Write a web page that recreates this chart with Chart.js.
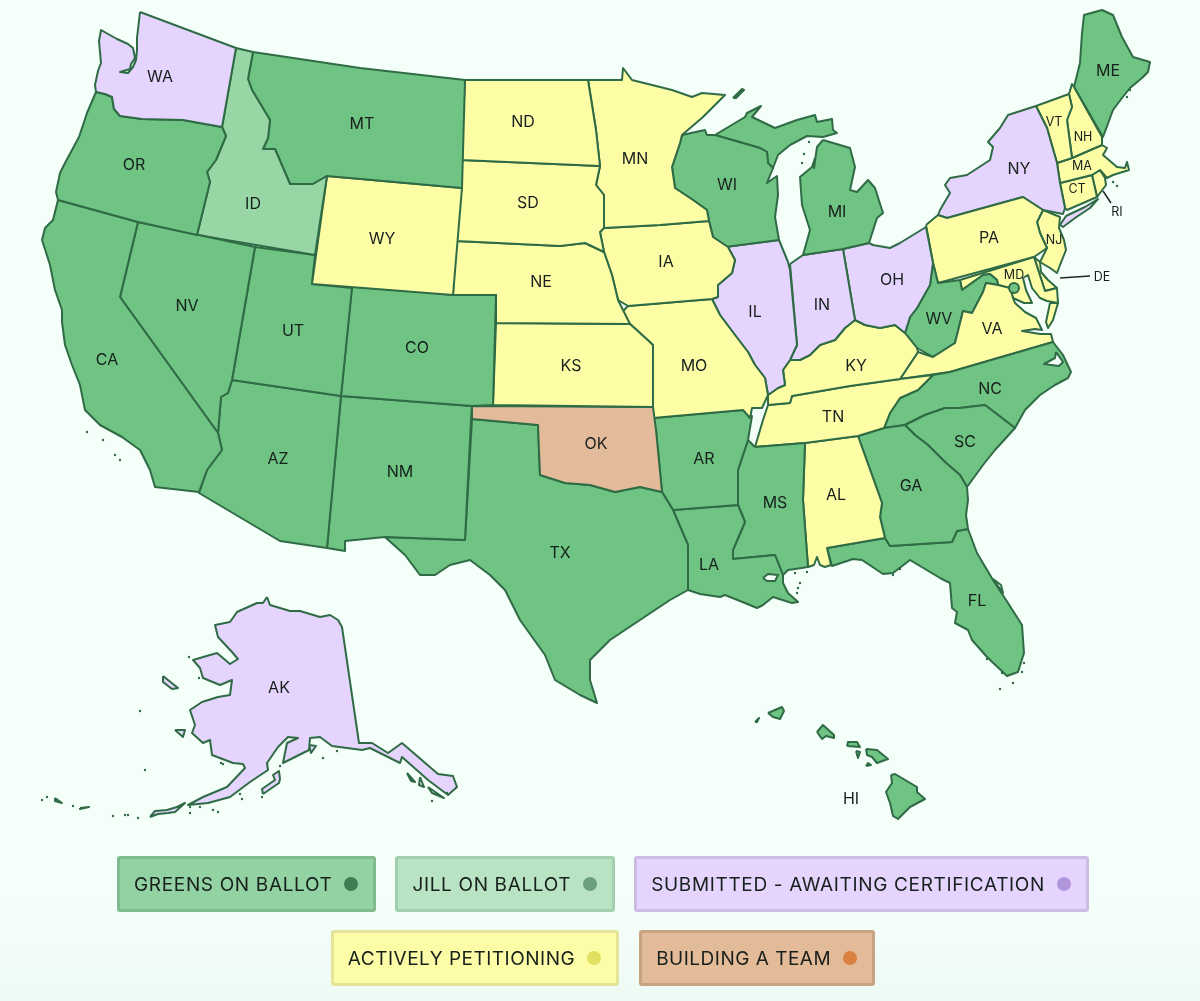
<!DOCTYPE html>
<html>
<head>
<meta charset="utf-8">
<title>Green Party ballot access</title>
<script src="https://cdn.jsdelivr.net/npm/chart.js@4/dist/chart.umd.min.js"></script>
<style>
    html, body { margin: 0; padding: 0; width: 1200px; height: 1001px; overflow: hidden; }
    body { background: linear-gradient(to bottom, #f5fffa 0, #f5fffa 900px, #eefaf4 1001px); position: relative; font-family: Inter, "Open Sans", sans-serif; }
    #map { position: absolute; left: 0; top: 0; }
    .legend-row { position: absolute; left: 3px; width: 1200px; display: flex; justify-content: center; gap: 19px; letter-spacing: 0.65px; }
    #legend-2 { gap: 20px; letter-spacing: 0.5px; }
    .legend-item { box-sizing: border-box; height: 56px; display: flex; align-items: center; border-radius: 3px; border: 3px solid; padding: 0 15px 0 14px; font-size: 19px; color: #17201c; white-space: nowrap; }
    .legend-item i { width: 14px; height: 14px; border-radius: 50%; margin-left: 12px; display: block; }
</style>
</head>
<body>
<canvas id="map" width="1200" height="1001"></canvas>
<div class="legend-row" id="legend-1" style="top:856px"></div>
<div class="legend-row" id="legend-2" style="top:930px"></div>
<script>
// categories
const legendLabels = ['GREENS ON BALLOT', 'JILL ON BALLOT', 'SUBMITTED - AWAITING CERTIFICATION', 'ACTIVELY PETITIONING', 'BUILDING A TEAM'];
const legendFill = ['#93d3a3', '#b9e4c3', '#e5d4fd', '#fcfda6', '#e4bb98'];
const legendEdge = ['#7fbb8f', '#a2cfae', '#cdbde6', '#e4e49a', '#c5a383'];
const legendDot = ['#3f7d55', '#6c9f7c', '#b095dd', '#e0e060', '#d98240'];
const stateFill = ['#6fc383', '#98d6a6', '#e5d4fe', '#fdfda6', '#e3bb9a'];

// states by category
const greens = ['OR','CA','NV','MT','UT','CO','AZ','NM','TX','AR','LA','MS','WI','MI','MI2','MI3','WV','NC','SC','GA','FL','ME','HI1','HI2','HI3','HI4','HI5','HI6','HI7','HI8'];
const jill = ['ID'];
const submitted = ['WA','NY','NY2','IL','IN','OH','AK','AK2','AK3','AK4','AK5','AK6','AK7','AK8','AK9','AK10','AK11'];
const petitioning = ['WY','ND','SD','NE','KS','MN','IA','MO','KY','TN','AL','VA','VA2','PA','NJ','DE','MD','VT','NH','MA','CT','RI'];
const team = ['OK'];

// outlines
const WA = [[140,12],[236,48],[222,127],[183,120],[142,119],[120,116],[114,109],[112,97],[105,94],[96,92],[95,85],[98,71],[101,63],[99,41],[101,30],[117,39],[128,44],[133,48],[135,58],[131,64],[130,69],[120,72],[128,73],[133,67],[136,60],[137,50],[137,38]];
const OR = [[96,92],[105,94],[112,97],[114,109],[120,116],[142,119],[183,120],[222,127],[226,136],[216,160],[207,172],[210,182],[197,235],[138,222],[58,200],[56,192],[60,173],[65,163],[79,137],[87,113]];
const CA = [[58,200],[138,222],[120,297],[218,433],[222,450],[207,470],[199,492],[155,487],[150,470],[140,450],[122,437],[100,425],[85,410],[80,385],[72,365],[65,345],[62,322],[62,310],[55,290],[50,265],[42,240],[45,228],[53,220]];
const NV = [[138,222],[255,247],[232,380],[228,393],[221,397],[218,433],[120,297]];
const ID = [[236,48],[253,52],[248,79],[252,90],[270,120],[268,138],[263,149],[275,149],[290,184],[313,184],[320,180],[327,176],[315,255],[197,235],[210,182],[207,172],[216,160],[226,136],[222,127]];
const MT = [[253,52],[360,68],[465,80],[462,188],[327,176],[320,180],[313,184],[290,184],[275,149],[263,149],[268,138],[270,120],[252,90],[248,79]];
const WY = [[327,176],[462,188],[453,295],[312,284]];
const UT = [[255,247],[315,255],[312,284],[352,288],[341,396],[232,380]];
const CO = [[352,285],[453,295],[496,295],[493,405],[472,406],[341,396]];
const AZ = [[232,380],[341,396],[327,548],[280,541],[199,493],[207,470],[222,450],[218,433],[221,397],[228,393]];
const NM = [[341,396],[472,406],[471,420],[465,540],[385,537],[345,541],[345,551],[327,548]];
const ND = [[465,80],[530,80],[588,80],[592,105],[596,130],[600,166],[461,160]];
const SD = [[461,160],[600,166],[596,185],[604,195],[604,228],[600,232],[604,252],[585,243],[560,246],[456,241]];
const NE = [[456,241],[560,246],[585,243],[604,252],[612,275],[618,300],[630,324],[496,323],[496,295],[453,295]];
const KS = [[496,323],[630,324],[640,333],[653,345],[653,407],[493,405]];
const OK = [[472,406],[653,407],[656,430],[662,492],[640,487],[615,492],[590,485],[565,483],[540,475],[538,425],[472,419]];
const TX = [[472,419],[538,425],[540,475],[565,483],[590,485],[615,492],[640,487],[662,492],[673,510],[688,545],[688,575],[688,590],[670,600],[640,620],[610,640],[590,660],[590,680],[597,703],[580,695],[555,680],[545,655],[520,620],[505,590],[490,575],[470,560],[450,565],[435,575],[420,575],[405,555],[385,537],[465,540]];
const MN = [[588,80],[622,80],[623,68],[632,80],[660,87],[672,90],[692,97],[702,93],[725,95],[703,117],[682,135],[680,143],[672,167],[675,188],[693,200],[707,210],[709,221],[660,225],[604,228],[604,195],[596,185],[600,166],[596,130],[592,105]];
const IA = [[604,228],[660,225],[709,221],[713,237],[728,247],[735,260],[732,273],[718,285],[718,297],[712,299],[628,306],[618,300],[612,275],[604,252],[600,232]];
const MO = [[628,306],[712,299],[720,315],[735,335],[748,352],[755,365],[765,378],[768,395],[762,408],[752,408],[750,418],[743,410],[653,418],[653,345],[640,333],[630,324],[622,312]];
const AR = [[653,418],[743,410],[752,416],[748,440],[738,470],[738,505],[673,510],[662,492],[656,430]];
const LA = [[673,510],[738,505],[745,522],[733,550],[733,559],[775,555],[783,575],[783,583],[788,593],[798,602],[792,603],[773,597],[763,605],[757,608],[745,603],[725,595],[720,597],[700,594],[688,590],[688,575],[688,545]];
const MS = [[755,447],[805,443],[803,500],[808,567],[795,569],[788,570],[783,575],[775,555],[733,559],[733,550],[745,522],[738,505],[738,470],[748,440]];
const WI = [[682,135],[705,130],[707,135],[715,135],[760,148],[767,152],[768,163],[773,168],[767,183],[777,176],[778,195],[775,217],[779,240],[725,247],[713,237],[709,221],[707,210],[693,200],[675,188],[672,167],[680,143]];
const MI = [[715,135],[745,117],[747,113],[761,106],[752,117],[775,128],[797,120],[815,115],[817,122],[832,119],[833,130],[837,133],[823,137],[807,136],[790,145],[778,155],[773,168],[768,163],[767,152],[760,148]];
const MI2 = [[823,140],[850,148],[855,167],[850,190],[857,192],[868,180],[875,188],[883,213],[877,218],[869,243],[843,249],[803,255],[810,230],[802,205],[800,177],[812,167],[815,158],[814,168],[817,147]];
const MI3 = [[733,98],[742,89],[744,90],[736,98]];
const IL = [[725,247],[779,240],[788,262],[790,270],[797,345],[790,360],[783,370],[785,385],[778,388],[768,395],[765,378],[755,365],[748,352],[735,335],[720,315],[712,299],[718,297],[718,285],[732,273],[735,260],[728,247]];
const IN = [[790,264],[803,255],[843,249],[855,320],[845,328],[835,340],[820,345],[810,355],[800,360],[790,360],[797,345]];
const OH = [[843,249],[869,243],[873,245],[890,248],[900,243],[926,227],[933,263],[930,285],[917,308],[910,317],[905,333],[895,325],[880,328],[865,325],[855,320]];
const KY = [[768,405],[768,395],[778,388],[785,385],[783,370],[790,360],[800,360],[810,355],[820,345],[835,340],[845,328],[855,320],[865,325],[880,328],[895,325],[905,333],[917,348],[918,352],[900,379],[850,386],[792,396],[790,403]];
const TN = [[768,405],[790,403],[792,396],[850,386],[900,379],[933,375],[918,390],[900,398],[890,413],[884,428],[858,436],[805,443],[755,447],[763,420]];
const AL = [[805,443],[858,436],[882,503],[880,517],[885,538],[827,548],[831,565],[825,567],[820,565],[817,557],[814,565],[808,567],[803,500]];
const GA = [[858,436],[884,428],[905,425],[915,435],[928,445],[945,462],[960,475],[967,487],[968,500],[966,515],[968,529],[957,531],[952,542],[890,546],[885,538],[880,517],[882,503]];
const FL = [[827,548],[885,538],[890,546],[952,542],[957,531],[968,529],[977,553],[993,580],[1008,603],[1022,625],[1024,653],[1018,672],[1007,676],[987,657],[972,640],[968,630],[955,623],[957,612],[952,608],[950,583],[940,578],[910,560],[893,573],[883,574],[862,560],[853,559],[832,566]];
const SC = [[905,425],[925,415],[945,408],[960,408],[985,405],[1015,428],[995,450],[983,465],[967,487],[960,475],[945,462],[928,445],[915,435]];
const NC = [[933,375],[950,372],[1053,342],[1063,355],[1071,372],[1068,378],[1055,385],[1040,395],[1025,410],[1015,428],[985,405],[960,408],[945,408],[925,415],[905,425],[884,428],[890,413],[900,398],[918,390]];
const VA = [[900,379],[950,372],[1053,342],[1051,334],[1040,334],[1022,331],[1035,329],[1042,330],[1036,318],[1025,312],[1015,303],[1013,298],[1010,288],[998,285],[986,283],[983,292],[972,313],[963,311],[955,343],[933,357],[918,352]];
const VA2 = [[1050,303],[1058,303],[1053,320],[1048,328],[1046,322]];
const WV = [[933,263],[938,283],[960,280],[962,290],[983,275],[990,274],[997,280],[998,285],[986,283],[983,292],[972,313],[963,311],[955,343],[933,357],[917,348],[905,333],[910,317],[917,308],[930,285]];
const MD = [[960,280],[1034,257],[1045,291],[1057,288],[1058,303],[1047,301],[1040,298],[1032,288],[1028,275],[1023,278],[1026,290],[1032,303],[1024,303],[1013,298],[1010,288],[998,285],[997,280],[990,274],[983,275],[962,290]];
const DE = [[1034,257],[1040,262],[1041,272],[1048,280],[1057,288],[1045,291]];
const PA = [[926,225],[938,215],[947,218],[1023,197],[1043,210],[1037,222],[1040,233],[1047,248],[1034,257],[938,283],[933,263]];
const NJ = [[1043,210],[1060,217],[1059,228],[1064,240],[1066,250],[1060,265],[1057,273],[1050,268],[1040,262],[1047,248],[1040,233],[1037,222]];
const NY = [[938,215],[940,210],[950,193],[945,185],[950,178],[967,175],[990,160],[993,147],[988,142],[1000,128],[1008,115],[1036,106],[1047,128],[1057,163],[1060,183],[1065,208],[1063,214],[1043,210],[1023,197],[947,218]];
const NY2 = [[1060,225],[1066,216],[1085,207],[1098,199],[1090,208],[1075,218],[1063,227]];
const VT = [[1036,106],[1069,94],[1072,107],[1067,120],[1072,158],[1057,163],[1047,128]];
const NH = [[1069,94],[1072,84],[1074,87],[1102,137],[1102,145],[1072,158],[1067,120],[1072,107]];
const ME = [[1074,87],[1077,75],[1080,63],[1082,33],[1084,15],[1102,10],[1113,15],[1122,37],[1133,57],[1150,62],[1148,72],[1142,78],[1130,88],[1122,98],[1113,110],[1103,137]];
const MA = [[1057,163],[1072,158],[1102,145],[1107,148],[1103,155],[1117,167],[1125,168],[1127,162],[1129,170],[1113,175],[1107,178],[1100,170],[1092,175],[1060,183]];
const CT = [[1060,183],[1092,175],[1097,197],[1067,210],[1065,208]];
const RI = [[1092,175],[1100,170],[1105,178],[1106,185],[1097,197]];
const AK = [[267,597],[270,605],[290,611],[300,611],[320,617],[330,615],[338,620],[342,627],[359,743],[372,743],[388,753],[402,743],[438,774],[453,776],[457,787],[448,795],[428,780],[402,757],[400,763],[370,748],[362,750],[332,746],[320,737],[310,738],[309,750],[283,763],[287,743],[298,738],[288,737],[278,747],[267,763],[268,770],[250,782],[230,797],[208,803],[188,805],[203,797],[227,787],[245,768],[243,764],[233,763],[212,755],[210,740],[203,743],[192,733],[195,725],[190,710],[202,702],[218,697],[230,695],[232,680],[220,685],[203,678],[200,668],[193,660],[217,653],[230,664],[238,659],[232,652],[218,637],[215,625],[230,622],[237,612],[257,603],[263,603]];
const AK2 = [[163,676],[178,688],[172,689],[163,682]];
const AK3 = [[175,730],[185,730],[183,737]];
const AK4 = [[263,794],[262,789],[275,780],[273,775],[279,771],[280,779],[279,783]];
const AK5 = [[150,817],[155,811],[167,810],[177,807],[185,803],[175,812],[168,813],[158,814]];
const AK6 = [[80,808],[89,807],[80,809]];
const AK7 = [[55,798],[62,803],[55,801]];
const AK8 = [[407,773],[415,782],[411,781]];
const AK9 = [[420,777],[424,787],[419,785]];
const AK10 = [[428,787],[444,798],[432,793]];
const AK11 = [[309,745],[316,746],[311,753]];
const HI1 = [[768,713],[782,707],[784,711],[780,719],[773,717]];
const HI2 = [[755,722],[759,718],[757,722]];
const HI3 = [[817,732],[823,725],[834,735],[834,738],[826,736],[822,739]];
const HI4 = [[847,746],[848,742],[857,742],[860,747]];
const HI5 = [[856,751],[860,752],[858,758]];
const HI6 = [[866,749],[877,750],[888,759],[877,763],[872,757],[867,755]];
const HI7 = [[866,766],[868,763],[871,765]];
const HI8 = [[891,775],[895,774],[917,787],[917,792],[925,799],[910,807],[898,819],[893,816],[890,803],[886,792],[892,783]];
const lakePontchartrain = [[763,578],[768,574],[778,575],[775,581],[767,581]];
const pamlicoSound = [[1056,352],[1063,362],[1059,366],[1044,364],[1055,358]];
const indianRiver = [[993,579],[1001,585],[1003,593]];
const outlines = { WA, OR, CA, NV, ID, MT, WY, UT, CO, AZ, NM, ND, SD, NE, KS, OK, TX, MN, IA, MO, AR, LA, MS, WI, MI, MI2, MI3, IL, IN, OH, KY, TN, AL, GA, FL, SC, NC, VA, VA2, WV, MD, DE, PA, NJ, NY, NY2, VT, NH, ME, MA, CT, RI, AK, AK2, AK3, AK4, AK5, AK6, AK7, AK8, AK9, AK10, AK11, HI1, HI2, HI3, HI4, HI5, HI6, HI7, HI8 };

// tiny islands, too small for an outline
const islets = [[189,657],[199,678],[140,711],[145,770],[221,763],[223,764],[42,800],[47,797],[73,806],[113,816],[125,815],[128,815],[138,818],[190,807],[190,813],[200,807],[213,810],[218,812],[240,794],[242,799],[262,797],[280,766],[323,758],[337,751],[432,801],[447,793],[987,659],[1002,673],[1013,683],[1022,672],[1024,663],[1000,689],[795,573],[800,583],[798,588],[797,593],[807,572],[900,569],[893,575],[1130,90],[1127,97],[1113,182],[1117,186],[809,142],[804,154],[802,163],[87,432],[103,440],[120,460],[115,455]];

// label anchors
const bigLabels = ['WA','OR','CA','NV','ID','MT','WY','UT','CO','AZ','NM','ND','SD','NE','KS','OK','TX','MN','IA','MO','AR','LA','WI','IL','MI','IN','OH','KY','TN','MS','AL','GA','FL','SC','NC','VA','WV','PA','NY','ME','AK','HI'];
const bigLabelX = [160,134,107,187,253,362,382,293,417,278,400,523,528,541,571,596,560,635,666,694,704,709,727,755,837,822,892,856,833,775,836,911,977,965,990,992,939,989,1019,1108,279,851];
const bigLabelY = [77,165,360,306,204,124,239,331,348,459,472,122,203,282,366,444,553,159,262,366,459,565,185,312,212,305,280,366,417,503,495,486,601,442,389,329,319,238,169,71,688,799];
const smallLabels = ['VT','NH','MA','CT','NJ','MD','RI','DE'];
const smallLabelX = [1054,1083,1082,1077,1054,1014,1117,1102];
const smallLabelY = [122,137,166,189,240,275,212,277];

// pointer lines and the DC marker
const riPointer = [[1103,191],[1111,203]];
const dePointer = [[1060,278],[1090,276]];
const dcMarker = [[1014,288]];

const edgeColor = '#2f6b45';

function toXY(list) {
    return list.map(p => ({ x: p[0], y: p[1] }));
}

function toRing(list) {
    const pts = toXY(list);
    pts.push(pts[0]);
    return pts;
}

function fillFor(name) {
    const groups = [greens, jill, submitted, petitioning, team];
    for (let i = 0; i < groups.length; i++) {
        if (groups[i].includes(name)) return stateFill[i];
    }
    return '#f5fffa';
}

function shapeDataset(name, list, fill) {
    return {
        label: name,
        data: toRing(list),
        showLine: true,
        pointRadius: 0,
        borderWidth: 2,
        borderColor: edgeColor,
        borderJoinStyle: 'round',
        tension: 0,
        polygonFill: fill
    };
}

// Chart.js paints dataset 0 on top, so the extras go first
const datasets = [
    { label: 'DC', data: toXY(dcMarker), pointRadius: 5, pointBackgroundColor: '#6fc383', pointBorderColor: edgeColor, pointBorderWidth: 2 },
    { label: 'RI pointer', data: toXY(riPointer), showLine: true, pointRadius: 0, borderColor: '#1d2a25', borderWidth: 1.5 },
    { label: 'DE pointer', data: toXY(dePointer), showLine: true, pointRadius: 0, borderColor: '#1d2a25', borderWidth: 1.5 },
    { label: 'islets', data: toXY(islets), pointRadius: 1.2, pointBackgroundColor: edgeColor, pointBorderWidth: 0 },
    shapeDataset('lake', lakePontchartrain, '#f5fffa'),
    shapeDataset('sound', pamlicoSound, '#f5fffa'),
    shapeDataset('river', indianRiver, '#f5fffa')
];
Object.keys(outlines).forEach(name => {
    datasets.push(shapeDataset(name, outlines[name], fillFor(name)));
});

// line datasets only stroke a path, so fill the closed ring first
const polygonFillPlugin = {
    id: 'polygonFill',
    beforeDatasetDraw(chart, args) {
        const ds = chart.data.datasets[args.index];
        if (!ds.polygonFill) return;
        const pts = args.meta.data;
        const ctx = chart.ctx;
        ctx.save();
        ctx.beginPath();
        pts.forEach((p, i) => { if (i === 0) ctx.moveTo(p.x, p.y); else ctx.lineTo(p.x, p.y); });
        ctx.closePath();
        ctx.fillStyle = ds.polygonFill;
        ctx.fill();
        ctx.restore();
    }
};

const stateLabelPlugin = {
    id: 'stateLabels',
    afterDatasetsDraw(chart) {
        const ctx = chart.ctx;
        const sx = chart.scales.x;
        const sy = chart.scales.y;
        ctx.save();
        ctx.fillStyle = '#17201c';
        ctx.textAlign = 'center';
        ctx.textBaseline = 'middle';
        ctx.font = '16px Inter';
        bigLabels.forEach((t, i) => ctx.fillText(t, sx.getPixelForValue(bigLabelX[i]), sy.getPixelForValue(bigLabelY[i])));
        ctx.font = '12.5px Inter';
        smallLabels.forEach((t, i) => ctx.fillText(t, sx.getPixelForValue(smallLabelX[i]), sy.getPixelForValue(smallLabelY[i])));
        ctx.restore();
    }
};

new Chart(document.getElementById('map'), {
    type: 'scatter',
    data: { datasets: datasets },
    plugins: [polygonFillPlugin, stateLabelPlugin],
    options: {
        responsive: false,
        animation: false,
        events: [],
        layout: { padding: 0, autoPadding: false },
        plugins: { legend: { display: false }, tooltip: { enabled: false } },
        scales: {
            x: { type: 'linear', min: 0, max: 1200, display: false },
            y: { type: 'linear', min: 0, max: 1001, reverse: true, display: false }
        }
    }
});

// legend boxes
legendLabels.forEach((label, i) => {
    const box = document.createElement('div');
    box.className = 'legend-item';
    box.style.background = legendFill[i];
    box.style.borderColor = legendEdge[i];
    box.textContent = label;
    const dot = document.createElement('i');
    dot.style.background = legendDot[i];
    box.appendChild(dot);
    document.getElementById(i < 3 ? 'legend-1' : 'legend-2').appendChild(box);
});
</script>
</body>
</html>
